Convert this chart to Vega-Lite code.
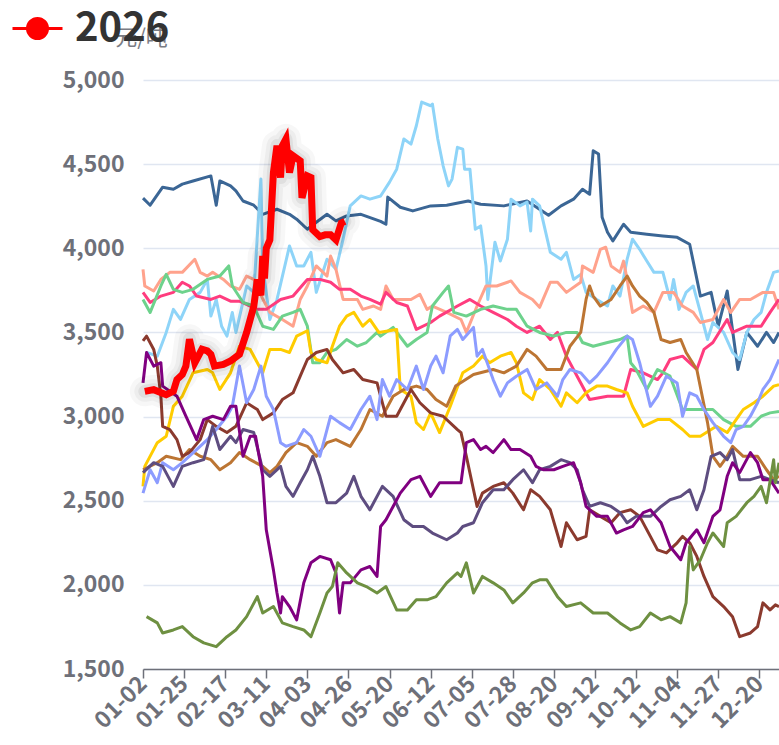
{
"$schema":"https://vega.github.io/schema/vega-lite/v6.json",
"width":636,"height":589,
"autosize":{"type":"none"},
"padding":{"left":143,"top":80,"right":0,"bottom":76},
"background":"white",
"config":{"view":{"stroke":null},"font":"Noto Sans CJK SC"},
"datasets":{
"past":[
{"year":"2022","day":0,"price":4298},{"year":"2022","day":4,"price":4256},{"year":"2022","day":11,"price":4363},{"year":"2022","day":17,"price":4351},{"year":"2022","day":22,"price":4381},{"year":"2022","day":28,"price":4400},{"year":"2022","day":38,"price":4430},{"year":"2022","day":41,"price":4256},{"year":"2022","day":43,"price":4400},{"year":"2022","day":49,"price":4371},{"year":"2022","day":52,"price":4341},{"year":"2022","day":56,"price":4281},{"year":"2022","day":62,"price":4256},{"year":"2022","day":67,"price":4202},{"year":"2022","day":75,"price":4232},{"year":"2022","day":82,"price":4202},{"year":"2022","day":86,"price":4173},{"year":"2022","day":92,"price":4113},{"year":"2022","day":97,"price":4155},{"year":"2022","day":103,"price":4202},{"year":"2022","day":108,"price":4163},{"year":"2022","day":114,"price":4192},{"year":"2022","day":122,"price":4202},{"year":"2022","day":133,"price":4160},{"year":"2022","day":136,"price":4143},{"year":"2022","day":137,"price":4304},{"year":"2022","day":144,"price":4244},{"year":"2022","day":151,"price":4222},{"year":"2022","day":161,"price":4252},{"year":"2022","day":170,"price":4256},{"year":"2022","day":182,"price":4281},{"year":"2022","day":189,"price":4262},{"year":"2022","day":202,"price":4252},{"year":"2022","day":215,"price":4281},{"year":"2022","day":227,"price":4196},{"year":"2022","day":234,"price":4252},{"year":"2022","day":241,"price":4292},{"year":"2022","day":246,"price":4351},{"year":"2022","day":250,"price":4321},{"year":"2022","day":252,"price":4579},{"year":"2022","day":255,"price":4560},{"year":"2022","day":257,"price":4185},{"year":"2022","day":260,"price":4095},{"year":"2022","day":263,"price":4044},{"year":"2022","day":269,"price":4143},{"year":"2022","day":273,"price":4095},{"year":"2022","day":282,"price":4083},{"year":"2022","day":291,"price":4073},{"year":"2022","day":299,"price":4065},{"year":"2022","day":306,"price":4024},{"year":"2022","day":312,"price":3716},{"year":"2022","day":318,"price":3738},{"year":"2022","day":322,"price":3537},{"year":"2022","day":327,"price":3746},{"year":"2022","day":333,"price":3280},{"year":"2022","day":338,"price":3500},{"year":"2022","day":344,"price":3418},{"year":"2022","day":349,"price":3500},{"year":"2022","day":353,"price":3440},{"year":"2022","day":356,"price":3500},
{"year":"2021","day":2,"price":3381},{"year":"2021","day":8,"price":3359},{"year":"2021","day":13,"price":3500},{"year":"2021","day":17,"price":3637},{"year":"2021","day":21,"price":3577},{"year":"2021","day":26,"price":3696},{"year":"2021","day":32,"price":3738},{"year":"2021","day":36,"price":3815},{"year":"2021","day":38,"price":3597},{"year":"2021","day":41,"price":3696},{"year":"2021","day":44,"price":3537},{"year":"2021","day":47,"price":3478},{"year":"2021","day":50,"price":3619},{"year":"2021","day":52,"price":3500},{"year":"2021","day":58,"price":3776},{"year":"2021","day":62,"price":3738},{"year":"2021","day":66,"price":4411},{"year":"2021","day":67,"price":3895},{"year":"2021","day":71,"price":3577},{"year":"2021","day":75,"price":3696},{"year":"2021","day":82,"price":4014},{"year":"2021","day":86,"price":3895},{"year":"2021","day":90,"price":3895},{"year":"2021","day":94,"price":3976},{"year":"2021","day":97,"price":3738},{"year":"2021","day":103,"price":3935},{"year":"2021","day":108,"price":3875},{"year":"2021","day":112,"price":4054},{"year":"2021","day":116,"price":4252},{"year":"2021","day":122,"price":4311},{"year":"2021","day":127,"price":4292},{"year":"2021","day":133,"price":4311},{"year":"2021","day":138,"price":4393},{"year":"2021","day":142,"price":4470},{"year":"2021","day":146,"price":4649},{"year":"2021","day":150,"price":4619},{"year":"2021","day":153,"price":4728},{"year":"2021","day":156,"price":4869},{"year":"2021","day":161,"price":4847},{"year":"2021","day":162,"price":4857},{"year":"2021","day":165,"price":4649},{"year":"2021","day":168,"price":4490},{"year":"2021","day":171,"price":4371},{"year":"2021","day":173,"price":4411},{"year":"2021","day":176,"price":4600},{"year":"2021","day":179,"price":4589},{"year":"2021","day":180,"price":4470},{"year":"2021","day":183,"price":4470},{"year":"2021","day":186,"price":4113},{"year":"2021","day":189,"price":4133},{"year":"2021","day":192,"price":3895},{"year":"2021","day":193,"price":3696},{"year":"2021","day":197,"price":4036},{"year":"2021","day":200,"price":3924},{"year":"2021","day":204,"price":4054},{"year":"2021","day":206,"price":4292},{"year":"2021","day":211,"price":4252},{"year":"2021","day":215,"price":4274},{"year":"2021","day":217,"price":4103},{"year":"2021","day":218,"price":4292},{"year":"2021","day":222,"price":4252},{"year":"2021","day":228,"price":3976},{"year":"2021","day":234,"price":3935},{"year":"2021","day":237,"price":3976},{"year":"2021","day":241,"price":3815},{"year":"2021","day":245,"price":3845},{"year":"2021","day":248,"price":3738},{"year":"2021","day":254,"price":3696},{"year":"2021","day":260,"price":3657},{"year":"2021","day":263,"price":3776},{"year":"2021","day":267,"price":3716},{"year":"2021","day":271,"price":3935},{"year":"2021","day":274,"price":4054},{"year":"2021","day":278,"price":3994},{"year":"2021","day":282,"price":3924},{"year":"2021","day":286,"price":3857},{"year":"2021","day":291,"price":3857},{"year":"2021","day":295,"price":3696},{"year":"2021","day":297,"price":3815},{"year":"2021","day":300,"price":3637},{"year":"2021","day":304,"price":3738},{"year":"2021","day":308,"price":3776},{"year":"2021","day":312,"price":3619},{"year":"2021","day":316,"price":3458},{"year":"2021","day":319,"price":3559},{"year":"2021","day":325,"price":3500},{"year":"2021","day":330,"price":3381},{"year":"2021","day":334,"price":3339},{"year":"2021","day":338,"price":3500},{"year":"2021","day":342,"price":3577},{"year":"2021","day":346,"price":3619},{"year":"2021","day":349,"price":3738},{"year":"2021","day":353,"price":3857},{"year":"2021","day":356,"price":3865},
{"year":"2023","day":0,"price":3875},{"year":"2023","day":1,"price":3776},{"year":"2023","day":6,"price":3746},{"year":"2023","day":10,"price":3815},{"year":"2023","day":15,"price":3857},{"year":"2023","day":22,"price":3857},{"year":"2023","day":29,"price":3935},{"year":"2023","day":32,"price":3857},{"year":"2023","day":36,"price":3835},{"year":"2023","day":39,"price":3857},{"year":"2023","day":45,"price":3815},{"year":"2023","day":49,"price":3776},{"year":"2023","day":54,"price":3756},{"year":"2023","day":58,"price":3835},{"year":"2023","day":62,"price":3815},{"year":"2023","day":67,"price":3700},{"year":"2023","day":71,"price":3619},{"year":"2023","day":78,"price":3577},{"year":"2023","day":84,"price":3537},{"year":"2023","day":88,"price":3696},{"year":"2023","day":92,"price":3776},{"year":"2023","day":97,"price":3895},{"year":"2023","day":103,"price":3835},{"year":"2023","day":105,"price":3954},{"year":"2023","day":108,"price":3875},{"year":"2023","day":112,"price":3696},{"year":"2023","day":120,"price":3696},{"year":"2023","day":123,"price":3637},{"year":"2023","day":129,"price":3657},{"year":"2023","day":133,"price":3637},{"year":"2023","day":136,"price":3776},{"year":"2023","day":140,"price":3696},{"year":"2023","day":150,"price":3696},{"year":"2023","day":155,"price":3726},{"year":"2023","day":159,"price":3637},{"year":"2023","day":162,"price":3657},{"year":"2023","day":170,"price":3619},{"year":"2023","day":178,"price":3577},{"year":"2023","day":181,"price":3500},{"year":"2023","day":187,"price":3657},{"year":"2023","day":192,"price":3776},{"year":"2023","day":198,"price":3776},{"year":"2023","day":206,"price":3806},{"year":"2023","day":211,"price":3738},{"year":"2023","day":218,"price":3696},{"year":"2023","day":222,"price":3649},{"year":"2023","day":228,"price":3798},{"year":"2023","day":232,"price":3798},{"year":"2023","day":237,"price":3738},{"year":"2023","day":245,"price":3798},{"year":"2023","day":246,"price":3895},{"year":"2023","day":252,"price":3857},{"year":"2023","day":256,"price":3994},{"year":"2023","day":259,"price":4006},{"year":"2023","day":262,"price":3895},{"year":"2023","day":267,"price":3857},{"year":"2023","day":269,"price":3924},{"year":"2023","day":271,"price":3815},{"year":"2023","day":274,"price":3619},{"year":"2023","day":280,"price":3657},{"year":"2023","day":286,"price":3619},{"year":"2023","day":291,"price":3738},{"year":"2023","day":297,"price":3738},{"year":"2023","day":302,"price":3657},{"year":"2023","day":308,"price":3619},{"year":"2023","day":312,"price":3559},{"year":"2023","day":319,"price":3577},{"year":"2023","day":325,"price":3696},{"year":"2023","day":329,"price":3619},{"year":"2023","day":334,"price":3696},{"year":"2023","day":340,"price":3696},{"year":"2023","day":347,"price":3738},{"year":"2023","day":353,"price":3738},{"year":"2023","day":356,"price":3637},
{"year":"2024","day":0,"price":3738},{"year":"2024","day":4,"price":3678},{"year":"2024","day":10,"price":3716},{"year":"2024","day":17,"price":3738},{"year":"2024","day":22,"price":3798},{"year":"2024","day":26,"price":3776},{"year":"2024","day":30,"price":3716},{"year":"2024","day":38,"price":3696},{"year":"2024","day":43,"price":3716},{"year":"2024","day":49,"price":3686},{"year":"2024","day":54,"price":3686},{"year":"2024","day":64,"price":3637},{"year":"2024","day":69,"price":3637},{"year":"2024","day":77,"price":3696},{"year":"2024","day":84,"price":3716},{"year":"2024","day":92,"price":3815},{"year":"2024","day":99,"price":3815},{"year":"2024","day":105,"price":3798},{"year":"2024","day":110,"price":3756},{"year":"2024","day":116,"price":3756},{"year":"2024","day":122,"price":3716},{"year":"2024","day":127,"price":3696},{"year":"2024","day":133,"price":3668},{"year":"2024","day":136,"price":3738},{"year":"2024","day":142,"price":3678},{"year":"2024","day":148,"price":3657},{"year":"2024","day":153,"price":3518},{"year":"2024","day":161,"price":3559},{"year":"2024","day":166,"price":3597},{"year":"2024","day":176,"price":3657},{"year":"2024","day":183,"price":3696},{"year":"2024","day":189,"price":3657},{"year":"2024","day":196,"price":3619},{"year":"2024","day":204,"price":3577},{"year":"2024","day":209,"price":3537},{"year":"2024","day":215,"price":3500},{"year":"2024","day":222,"price":3537},{"year":"2024","day":228,"price":3458},{"year":"2024","day":232,"price":3500},{"year":"2024","day":237,"price":3359},{"year":"2024","day":243,"price":3240},{"year":"2024","day":250,"price":3101},{"year":"2024","day":260,"price":3121},{"year":"2024","day":269,"price":3121},{"year":"2024","day":273,"price":3280},{"year":"2024","day":280,"price":3260},{"year":"2024","day":288,"price":3220},{"year":"2024","day":291,"price":3260},{"year":"2024","day":295,"price":3339},{"year":"2024","day":302,"price":3359},{"year":"2024","day":310,"price":3280},{"year":"2024","day":314,"price":3399},{"year":"2024","day":319,"price":3440},{"year":"2024","day":327,"price":3577},{"year":"2024","day":330,"price":3500},{"year":"2024","day":338,"price":3537},{"year":"2024","day":346,"price":3537},{"year":"2024","day":351,"price":3619},{"year":"2024","day":356,"price":3696},
{"year":"2025","day":0,"price":3696},{"year":"2025","day":4,"price":3619},{"year":"2025","day":10,"price":3776},{"year":"2025","day":13,"price":3845},{"year":"2025","day":17,"price":3756},{"year":"2025","day":22,"price":3738},{"year":"2025","day":28,"price":3756},{"year":"2025","day":36,"price":3815},{"year":"2025","day":43,"price":3835},{"year":"2025","day":48,"price":3895},{"year":"2025","day":50,"price":3776},{"year":"2025","day":56,"price":3678},{"year":"2025","day":62,"price":3657},{"year":"2025","day":67,"price":3537},{"year":"2025","day":73,"price":3518},{"year":"2025","day":78,"price":3597},{"year":"2025","day":84,"price":3619},{"year":"2025","day":88,"price":3637},{"year":"2025","day":92,"price":3537},{"year":"2025","day":95,"price":3320},{"year":"2025","day":99,"price":3320},{"year":"2025","day":103,"price":3381},{"year":"2025","day":108,"price":3399},{"year":"2025","day":114,"price":3458},{"year":"2025","day":120,"price":3418},{"year":"2025","day":125,"price":3440},{"year":"2025","day":131,"price":3500},{"year":"2025","day":133,"price":3478},{"year":"2025","day":140,"price":3530},{"year":"2025","day":148,"price":3418},{"year":"2025","day":153,"price":3458},{"year":"2025","day":159,"price":3500},{"year":"2025","day":162,"price":3657},{"year":"2025","day":168,"price":3738},{"year":"2025","day":171,"price":3776},{"year":"2025","day":174,"price":3619},{"year":"2025","day":181,"price":3597},{"year":"2025","day":189,"price":3637},{"year":"2025","day":196,"price":3657},{"year":"2025","day":204,"price":3637},{"year":"2025","day":209,"price":3637},{"year":"2025","day":215,"price":3537},{"year":"2025","day":222,"price":3500},{"year":"2025","day":230,"price":3478},{"year":"2025","day":237,"price":3500},{"year":"2025","day":243,"price":3500},{"year":"2025","day":246,"price":3440},{"year":"2025","day":252,"price":3418},{"year":"2025","day":260,"price":3440},{"year":"2025","day":267,"price":3458},{"year":"2025","day":271,"price":3478},{"year":"2025","day":273,"price":3320},{"year":"2025","day":276,"price":3280},{"year":"2025","day":282,"price":3161},{"year":"2025","day":288,"price":3280},{"year":"2025","day":295,"price":3240},{"year":"2025","day":302,"price":3042},{"year":"2025","day":310,"price":3042},{"year":"2025","day":319,"price":3042},{"year":"2025","day":325,"price":2982},{"year":"2025","day":332,"price":2942},{"year":"2025","day":340,"price":2942},{"year":"2025","day":346,"price":3002},{"year":"2025","day":351,"price":3022},{"year":"2025","day":356,"price":3030},
{"year":"2019","day":0,"price":2585},{"year":"2019","day":1,"price":2704},{"year":"2019","day":8,"price":2845},{"year":"2019","day":13,"price":2883},{"year":"2019","day":17,"price":3061},{"year":"2019","day":22,"price":3121},{"year":"2019","day":28,"price":3260},{"year":"2019","day":36,"price":3280},{"year":"2019","day":39,"price":3260},{"year":"2019","day":43,"price":3161},{"year":"2019","day":49,"price":3260},{"year":"2019","day":54,"price":3418},{"year":"2019","day":60,"price":3399},{"year":"2019","day":64,"price":3320},{"year":"2019","day":67,"price":3260},{"year":"2019","day":71,"price":3399},{"year":"2019","day":77,"price":3399},{"year":"2019","day":82,"price":3381},{"year":"2019","day":86,"price":3478},{"year":"2019","day":92,"price":3510},{"year":"2019","day":94,"price":3381},{"year":"2019","day":97,"price":3339},{"year":"2019","day":103,"price":3320},{"year":"2019","day":106,"price":3418},{"year":"2019","day":110,"price":3537},{"year":"2019","day":114,"price":3597},{"year":"2019","day":118,"price":3619},{"year":"2019","day":123,"price":3537},{"year":"2019","day":127,"price":3577},{"year":"2019","day":132,"price":3500},{"year":"2019","day":142,"price":3518},{"year":"2019","day":144,"price":3161},{"year":"2019","day":150,"price":3121},{"year":"2019","day":153,"price":2964},{"year":"2019","day":157,"price":2923},{"year":"2019","day":161,"price":3022},{"year":"2019","day":166,"price":2905},{"year":"2019","day":172,"price":3061},{"year":"2019","day":179,"price":3260},{"year":"2019","day":185,"price":3300},{"year":"2019","day":190,"price":3359},{"year":"2019","day":194,"price":3320},{"year":"2019","day":200,"price":3359},{"year":"2019","day":206,"price":3381},{"year":"2019","day":209,"price":3320},{"year":"2019","day":213,"price":3141},{"year":"2019","day":218,"price":3101},{"year":"2019","day":222,"price":3220},{"year":"2019","day":228,"price":3161},{"year":"2019","day":234,"price":3061},{"year":"2019","day":237,"price":3141},{"year":"2019","day":243,"price":3082},{"year":"2019","day":248,"price":3141},{"year":"2019","day":254,"price":3181},{"year":"2019","day":260,"price":3181},{"year":"2019","day":265,"price":3161},{"year":"2019","day":271,"price":3141},{"year":"2019","day":274,"price":3061},{"year":"2019","day":280,"price":2942},{"year":"2019","day":288,"price":2982},{"year":"2019","day":295,"price":2982},{"year":"2019","day":302,"price":2923},{"year":"2019","day":306,"price":2883},{"year":"2019","day":312,"price":2883},{"year":"2019","day":318,"price":2923},{"year":"2019","day":321,"price":2942},{"year":"2019","day":327,"price":2905},{"year":"2019","day":332,"price":2982},{"year":"2019","day":336,"price":3042},{"year":"2019","day":342,"price":3082},{"year":"2019","day":347,"price":3121},{"year":"2019","day":353,"price":3181},{"year":"2019","day":356,"price":3190},
{"year":"2018","day":0,"price":2684},{"year":"2018","day":8,"price":2726},{"year":"2018","day":13,"price":2764},{"year":"2018","day":21,"price":2744},{"year":"2018","day":26,"price":2804},{"year":"2018","day":32,"price":2764},{"year":"2018","day":38,"price":2744},{"year":"2018","day":43,"price":2684},{"year":"2018","day":49,"price":2726},{"year":"2018","day":54,"price":2786},{"year":"2018","day":60,"price":2744},{"year":"2018","day":67,"price":2704},{"year":"2018","day":71,"price":2667},{"year":"2018","day":75,"price":2704},{"year":"2018","day":80,"price":2786},{"year":"2018","day":86,"price":2845},{"year":"2018","day":92,"price":2823},{"year":"2018","day":97,"price":2764},{"year":"2018","day":103,"price":2845},{"year":"2018","day":108,"price":2863},{"year":"2018","day":116,"price":2823},{"year":"2018","day":122,"price":2923},{"year":"2018","day":127,"price":3042},{"year":"2018","day":134,"price":3002},{"year":"2018","day":140,"price":3121},{"year":"2018","day":146,"price":3161},{"year":"2018","day":153,"price":3181},{"year":"2018","day":159,"price":3161},{"year":"2018","day":164,"price":3101},{"year":"2018","day":170,"price":3061},{"year":"2018","day":175,"price":3181},{"year":"2018","day":185,"price":3250},{"year":"2018","day":196,"price":3280},{"year":"2018","day":202,"price":3260},{"year":"2018","day":209,"price":3300},{"year":"2018","day":215,"price":3399},{"year":"2018","day":220,"price":3359},{"year":"2018","day":226,"price":3280},{"year":"2018","day":234,"price":3280},{"year":"2018","day":239,"price":3418},{"year":"2018","day":245,"price":3500},{"year":"2018","day":248,"price":3696},{"year":"2018","day":250,"price":3776},{"year":"2018","day":252,"price":3716},{"year":"2018","day":256,"price":3657},{"year":"2018","day":262,"price":3696},{"year":"2018","day":267,"price":3776},{"year":"2018","day":271,"price":3835},{"year":"2018","day":274,"price":3776},{"year":"2018","day":278,"price":3716},{"year":"2018","day":282,"price":3678},{"year":"2018","day":286,"price":3619},{"year":"2018","day":290,"price":3458},{"year":"2018","day":295,"price":3440},{"year":"2018","day":301,"price":3458},{"year":"2018","day":304,"price":3381},{"year":"2018","day":310,"price":3280},{"year":"2018","day":316,"price":2964},{"year":"2018","day":319,"price":2764},{"year":"2018","day":323,"price":2704},{"year":"2018","day":327,"price":2764},{"year":"2018","day":330,"price":2823},{"year":"2018","day":336,"price":2764},{"year":"2018","day":344,"price":2764},{"year":"2018","day":349,"price":2684},{"year":"2018","day":353,"price":2625},{"year":"2018","day":356,"price":2645},
{"year":"2017","day":0,"price":3450},{"year":"2017","day":2,"price":3478},{"year":"2017","day":6,"price":3399},{"year":"2017","day":8,"price":3300},{"year":"2017","day":10,"price":3121},{"year":"2017","day":11,"price":2942},{"year":"2017","day":15,"price":2923},{"year":"2017","day":19,"price":2863},{"year":"2017","day":22,"price":2764},{"year":"2017","day":26,"price":2786},{"year":"2017","day":32,"price":2863},{"year":"2017","day":36,"price":2982},{"year":"2017","day":41,"price":2942},{"year":"2017","day":47,"price":2905},{"year":"2017","day":52,"price":2942},{"year":"2017","day":58,"price":3082},{"year":"2017","day":64,"price":3042},{"year":"2017","day":67,"price":2982},{"year":"2017","day":73,"price":3022},{"year":"2017","day":78,"price":3101},{"year":"2017","day":84,"price":3141},{"year":"2017","day":88,"price":3240},{"year":"2017","day":92,"price":3339},{"year":"2017","day":97,"price":3381},{"year":"2017","day":103,"price":3399},{"year":"2017","day":106,"price":3339},{"year":"2017","day":112,"price":3260},{"year":"2017","day":118,"price":3280},{"year":"2017","day":123,"price":3220},{"year":"2017","day":131,"price":3200},{"year":"2017","day":136,"price":3002},{"year":"2017","day":142,"price":3002},{"year":"2017","day":150,"price":3161},{"year":"2017","day":155,"price":3082},{"year":"2017","day":161,"price":3022},{"year":"2017","day":168,"price":3002},{"year":"2017","day":176,"price":2923},{"year":"2017","day":178,"price":2905},{"year":"2017","day":181,"price":2764},{"year":"2017","day":185,"price":2565},{"year":"2017","day":187,"price":2466},{"year":"2017","day":190,"price":2545},{"year":"2017","day":196,"price":2585},{"year":"2017","day":202,"price":2607},{"year":"2017","day":207,"price":2545},{"year":"2017","day":213,"price":2446},{"year":"2017","day":217,"price":2565},{"year":"2017","day":222,"price":2526},{"year":"2017","day":228,"price":2446},{"year":"2017","day":234,"price":2228},{"year":"2017","day":237,"price":2369},{"year":"2017","day":243,"price":2268},{"year":"2017","day":248,"price":2288},{"year":"2017","day":250,"price":2446},{"year":"2017","day":256,"price":2407},{"year":"2017","day":262,"price":2369},{"year":"2017","day":267,"price":2429},{"year":"2017","day":273,"price":2446},{"year":"2017","day":278,"price":2407},{"year":"2017","day":284,"price":2288},{"year":"2017","day":288,"price":2208},{"year":"2017","day":293,"price":2190},{"year":"2017","day":299,"price":2250},{"year":"2017","day":302,"price":2288},{"year":"2017","day":306,"price":2250},{"year":"2017","day":310,"price":2169},{"year":"2017","day":314,"price":2050},{"year":"2017","day":319,"price":1930},{"year":"2017","day":325,"price":1871},{"year":"2017","day":330,"price":1811},{"year":"2017","day":334,"price":1692},{"year":"2017","day":340,"price":1714},{"year":"2017","day":344,"price":1752},{"year":"2017","day":347,"price":1893},{"year":"2017","day":351,"price":1851},{"year":"2017","day":354,"price":1881},{"year":"2017","day":356,"price":1871},
{"year":"2020","day":0,"price":2545},{"year":"2020","day":4,"price":2684},{"year":"2020","day":8,"price":2607},{"year":"2020","day":11,"price":2726},{"year":"2020","day":17,"price":2684},{"year":"2020","day":22,"price":2726},{"year":"2020","day":30,"price":2804},{"year":"2020","day":36,"price":2863},{"year":"2020","day":41,"price":2923},{"year":"2020","day":47,"price":3002},{"year":"2020","day":50,"price":3061},{"year":"2020","day":54,"price":3300},{"year":"2020","day":58,"price":3082},{"year":"2020","day":62,"price":3161},{"year":"2020","day":66,"price":3300},{"year":"2020","day":69,"price":3121},{"year":"2020","day":73,"price":3042},{"year":"2020","day":77,"price":2845},{"year":"2020","day":80,"price":2823},{"year":"2020","day":86,"price":2845},{"year":"2020","day":90,"price":2923},{"year":"2020","day":94,"price":2883},{"year":"2020","day":99,"price":2764},{"year":"2020","day":105,"price":3002},{"year":"2020","day":110,"price":2964},{"year":"2020","day":116,"price":2923},{"year":"2020","day":122,"price":3042},{"year":"2020","day":127,"price":3121},{"year":"2020","day":131,"price":2982},{"year":"2020","day":134,"price":3220},{"year":"2020","day":138,"price":3121},{"year":"2020","day":142,"price":3220},{"year":"2020","day":148,"price":3161},{"year":"2020","day":153,"price":3300},{"year":"2020","day":157,"price":3161},{"year":"2020","day":161,"price":3300},{"year":"2020","day":164,"price":3359},{"year":"2020","day":168,"price":3260},{"year":"2020","day":172,"price":3480},{"year":"2020","day":176,"price":3518},{"year":"2020","day":179,"price":3458},{"year":"2020","day":185,"price":3530},{"year":"2020","day":187,"price":3359},{"year":"2020","day":190,"price":3399},{"year":"2020","day":196,"price":3220},{"year":"2020","day":200,"price":3121},{"year":"2020","day":204,"price":3200},{"year":"2020","day":209,"price":3240},{"year":"2020","day":215,"price":3280},{"year":"2020","day":220,"price":3161},{"year":"2020","day":226,"price":3200},{"year":"2020","day":232,"price":3121},{"year":"2020","day":235,"price":3220},{"year":"2020","day":239,"price":3280},{"year":"2020","day":245,"price":3260},{"year":"2020","day":250,"price":3200},{"year":"2020","day":254,"price":3240},{"year":"2020","day":260,"price":3320},{"year":"2020","day":265,"price":3399},{"year":"2020","day":271,"price":3478},{"year":"2020","day":274,"price":3458},{"year":"2020","day":278,"price":3320},{"year":"2020","day":284,"price":3061},{"year":"2020","day":288,"price":3121},{"year":"2020","day":293,"price":3240},{"year":"2020","day":299,"price":3200},{"year":"2020","day":302,"price":3002},{"year":"2020","day":306,"price":3141},{"year":"2020","day":310,"price":3121},{"year":"2020","day":314,"price":3042},{"year":"2020","day":319,"price":2964},{"year":"2020","day":325,"price":2883},{"year":"2020","day":329,"price":2845},{"year":"2020","day":332,"price":2923},{"year":"2020","day":336,"price":2942},{"year":"2020","day":340,"price":3002},{"year":"2020","day":344,"price":3082},{"year":"2020","day":347,"price":3161},{"year":"2020","day":351,"price":3220},{"year":"2020","day":356,"price":3339},
{"year":"2015","day":0,"price":2667},{"year":"2015","day":6,"price":2726},{"year":"2015","day":11,"price":2704},{"year":"2015","day":17,"price":2585},{"year":"2015","day":22,"price":2704},{"year":"2015","day":28,"price":2726},{"year":"2015","day":34,"price":2744},{"year":"2015","day":39,"price":2942},{"year":"2015","day":43,"price":2804},{"year":"2015","day":49,"price":2883},{"year":"2015","day":52,"price":2845},{"year":"2015","day":56,"price":2923},{"year":"2015","day":62,"price":2905},{"year":"2015","day":67,"price":2684},{"year":"2015","day":71,"price":2645},{"year":"2015","day":77,"price":2704},{"year":"2015","day":80,"price":2585},{"year":"2015","day":84,"price":2526},{"year":"2015","day":88,"price":2607},{"year":"2015","day":92,"price":2684},{"year":"2015","day":95,"price":2764},{"year":"2015","day":99,"price":2645},{"year":"2015","day":103,"price":2488},{"year":"2015","day":108,"price":2488},{"year":"2015","day":114,"price":2545},{"year":"2015","day":118,"price":2645},{"year":"2015","day":122,"price":2526},{"year":"2015","day":127,"price":2446},{"year":"2015","day":134,"price":2585},{"year":"2015","day":140,"price":2526},{"year":"2015","day":146,"price":2387},{"year":"2015","day":151,"price":2347},{"year":"2015","day":157,"price":2347},{"year":"2015","day":162,"price":2308},{"year":"2015","day":170,"price":2268},{"year":"2015","day":176,"price":2308},{"year":"2015","day":179,"price":2347},{"year":"2015","day":185,"price":2369},{"year":"2015","day":190,"price":2488},{"year":"2015","day":196,"price":2565},{"year":"2015","day":202,"price":2565},{"year":"2015","day":207,"price":2625},{"year":"2015","day":213,"price":2684},{"year":"2015","day":218,"price":2607},{"year":"2015","day":222,"price":2684},{"year":"2015","day":228,"price":2704},{"year":"2015","day":234,"price":2744},{"year":"2015","day":239,"price":2726},{"year":"2015","day":243,"price":2684},{"year":"2015","day":246,"price":2565},{"year":"2015","day":250,"price":2466},{"year":"2015","day":256,"price":2488},{"year":"2015","day":262,"price":2466},{"year":"2015","day":267,"price":2429},{"year":"2015","day":271,"price":2369},{"year":"2015","day":276,"price":2407},{"year":"2015","day":284,"price":2407},{"year":"2015","day":290,"price":2466},{"year":"2015","day":295,"price":2506},{"year":"2015","day":301,"price":2526},{"year":"2015","day":306,"price":2565},{"year":"2015","day":310,"price":2446},{"year":"2015","day":314,"price":2565},{"year":"2015","day":318,"price":2764},{"year":"2015","day":323,"price":2786},{"year":"2015","day":327,"price":2744},{"year":"2015","day":330,"price":2804},{"year":"2015","day":334,"price":2625},{"year":"2015","day":340,"price":2625},{"year":"2015","day":346,"price":2645},{"year":"2015","day":351,"price":2625},{"year":"2015","day":356,"price":2607},
{"year":"2016","day":0,"price":3200},{"year":"2016","day":2,"price":3381},{"year":"2016","day":6,"price":3300},{"year":"2016","day":10,"price":3320},{"year":"2016","day":11,"price":3181},{"year":"2016","day":19,"price":3121},{"year":"2016","day":24,"price":3002},{"year":"2016","day":30,"price":2863},{"year":"2016","day":34,"price":2982},{"year":"2016","day":39,"price":3002},{"year":"2016","day":45,"price":2982},{"year":"2016","day":49,"price":3061},{"year":"2016","day":52,"price":3061},{"year":"2016","day":56,"price":2764},{"year":"2016","day":60,"price":2883},{"year":"2016","day":63,"price":2883},{"year":"2016","day":67,"price":2645},{"year":"2016","day":69,"price":2327},{"year":"2016","day":73,"price":2089},{"year":"2016","day":75,"price":1952},{"year":"2016","day":77,"price":1833},{"year":"2016","day":78,"price":1930},{"year":"2016","day":82,"price":1871},{"year":"2016","day":86,"price":1792},{"year":"2016","day":90,"price":2012},{"year":"2016","day":94,"price":2131},{"year":"2016","day":99,"price":2169},{"year":"2016","day":105,"price":2149},{"year":"2016","day":108,"price":2071},{"year":"2016","day":110,"price":1833},{"year":"2016","day":112,"price":2012},{"year":"2016","day":116,"price":2012},{"year":"2016","day":122,"price":2089},{"year":"2016","day":127,"price":2109},{"year":"2016","day":131,"price":2050},{"year":"2016","day":133,"price":2347},{"year":"2016","day":136,"price":2387},{"year":"2016","day":140,"price":2466},{"year":"2016","day":144,"price":2545},{"year":"2016","day":150,"price":2625},{"year":"2016","day":155,"price":2645},{"year":"2016","day":161,"price":2526},{"year":"2016","day":166,"price":2607},{"year":"2016","day":172,"price":2607},{"year":"2016","day":178,"price":2607},{"year":"2016","day":181,"price":2845},{"year":"2016","day":185,"price":2863},{"year":"2016","day":189,"price":2804},{"year":"2016","day":192,"price":2823},{"year":"2016","day":196,"price":2786},{"year":"2016","day":202,"price":2863},{"year":"2016","day":206,"price":2804},{"year":"2016","day":211,"price":2804},{"year":"2016","day":217,"price":2764},{"year":"2016","day":220,"price":2704},{"year":"2016","day":224,"price":2684},{"year":"2016","day":230,"price":2684},{"year":"2016","day":235,"price":2704},{"year":"2016","day":241,"price":2726},{"year":"2016","day":245,"price":2607},{"year":"2016","day":248,"price":2466},{"year":"2016","day":254,"price":2407},{"year":"2016","day":260,"price":2407},{"year":"2016","day":265,"price":2308},{"year":"2016","day":269,"price":2327},{"year":"2016","day":274,"price":2347},{"year":"2016","day":280,"price":2429},{"year":"2016","day":284,"price":2446},{"year":"2016","day":290,"price":2369},{"year":"2016","day":295,"price":2228},{"year":"2016","day":301,"price":2149},{"year":"2016","day":304,"price":2250},{"year":"2016","day":310,"price":2327},{"year":"2016","day":314,"price":2250},{"year":"2016","day":319,"price":2407},{"year":"2016","day":323,"price":2446},{"year":"2016","day":327,"price":2645},{"year":"2016","day":330,"price":2726},{"year":"2016","day":334,"price":2667},{"year":"2016","day":340,"price":2786},{"year":"2016","day":344,"price":2726},{"year":"2016","day":347,"price":2625},{"year":"2016","day":351,"price":2625},{"year":"2016","day":356,"price":2545},
{"year":"2014","day":2,"price":1811},{"year":"2014","day":8,"price":1774},{"year":"2014","day":11,"price":1714},{"year":"2014","day":17,"price":1732},{"year":"2014","day":22,"price":1752},{"year":"2014","day":28,"price":1692},{"year":"2014","day":34,"price":1655},{"year":"2014","day":41,"price":1633},{"year":"2014","day":47,"price":1692},{"year":"2014","day":52,"price":1732},{"year":"2014","day":58,"price":1811},{"year":"2014","day":64,"price":1930},{"year":"2014","day":67,"price":1833},{"year":"2014","day":73,"price":1871},{"year":"2014","day":78,"price":1774},{"year":"2014","day":84,"price":1752},{"year":"2014","day":90,"price":1732},{"year":"2014","day":94,"price":1692},{"year":"2014","day":99,"price":1833},{"year":"2014","day":103,"price":1952},{"year":"2014","day":106,"price":1990},{"year":"2014","day":109,"price":2131},{"year":"2014","day":114,"price":2071},{"year":"2014","day":120,"price":2012},{"year":"2014","day":125,"price":1990},{"year":"2014","day":131,"price":1952},{"year":"2014","day":136,"price":1990},{"year":"2014","day":142,"price":1851},{"year":"2014","day":148,"price":1851},{"year":"2014","day":153,"price":1911},{"year":"2014","day":159,"price":1911},{"year":"2014","day":164,"price":1930},{"year":"2014","day":170,"price":2012},{"year":"2014","day":176,"price":2071},{"year":"2014","day":178,"price":2050},{"year":"2014","day":181,"price":2131},{"year":"2014","day":185,"price":1952},{"year":"2014","day":190,"price":2050},{"year":"2014","day":196,"price":2012},{"year":"2014","day":202,"price":1970},{"year":"2014","day":207,"price":1893},{"year":"2014","day":213,"price":1952},{"year":"2014","day":218,"price":2012},{"year":"2014","day":222,"price":2030},{"year":"2014","day":226,"price":2030},{"year":"2014","day":232,"price":1930},{"year":"2014","day":237,"price":1871},{"year":"2014","day":245,"price":1893},{"year":"2014","day":252,"price":1833},{"year":"2014","day":260,"price":1833},{"year":"2014","day":267,"price":1774},{"year":"2014","day":273,"price":1732},{"year":"2014","day":278,"price":1752},{"year":"2014","day":284,"price":1833},{"year":"2014","day":290,"price":1792},{"year":"2014","day":295,"price":1811},{"year":"2014","day":301,"price":1774},{"year":"2014","day":304,"price":1893},{"year":"2014","day":306,"price":2228},{"year":"2014","day":308,"price":2089},{"year":"2014","day":312,"price":2149},{"year":"2014","day":316,"price":2250},{"year":"2014","day":319,"price":2308},{"year":"2014","day":325,"price":2228},{"year":"2014","day":327,"price":2369},{"year":"2014","day":332,"price":2407},{"year":"2014","day":338,"price":2488},{"year":"2014","day":342,"price":2526},{"year":"2014","day":346,"price":2585},{"year":"2014","day":349,"price":2488},{"year":"2014","day":353,"price":2744},{"year":"2014","day":354,"price":2607},{"year":"2014","day":356,"price":2726}
],
"current":[
{"year":"2026","day":1,"price":3150},{"year":"2026","day":6,"price":3160},{"year":"2026","day":13,"price":3130},{"year":"2026","day":17,"price":3150},{"year":"2026","day":19,"price":3220},{"year":"2026","day":22,"price":3250},{"year":"2026","day":24,"price":3300},{"year":"2026","day":26,"price":3460},{"year":"2026","day":29,"price":3320},{"year":"2026","day":33,"price":3400},{"year":"2026","day":36,"price":3390},{"year":"2026","day":38,"price":3370},{"year":"2026","day":40,"price":3300},{"year":"2026","day":45,"price":3310},{"year":"2026","day":49,"price":3330},{"year":"2026","day":54,"price":3370},{"year":"2026","day":58,"price":3500},{"year":"2026","day":62,"price":3655},{"year":"2026","day":64,"price":3815},{"year":"2026","day":66,"price":3720},{"year":"2026","day":67,"price":3955},{"year":"2026","day":68,"price":3820},{"year":"2026","day":69,"price":4000},{"year":"2026","day":71,"price":4050},{"year":"2026","day":73,"price":4450},{"year":"2026","day":75,"price":4610},{"year":"2026","day":77,"price":4420},{"year":"2026","day":78,"price":4610},{"year":"2026","day":80,"price":4650},{"year":"2026","day":82,"price":4450},{"year":"2026","day":84,"price":4550},{"year":"2026","day":88,"price":4520},{"year":"2026","day":89,"price":4300},{"year":"2026","day":92,"price":4430},{"year":"2026","day":94,"price":4420},{"year":"2026","day":95,"price":4110},{"year":"2026","day":99,"price":4070},{"year":"2026","day":102,"price":4080},{"year":"2026","day":105,"price":4080},{"year":"2026","day":108,"price":4050},{"year":"2026","day":111,"price":4150},{"year":"2026","day":113,"price":4160}
]
},
"encoding":{
"x":{"field":"day","type":"quantitative","scale":{"domain":[0,356],"nice":false,"zero":false},
"axis":{"title":null,"grid":false,"values":[0,23,46,69,92,115,138,161,184,207,230,253,276,299,322,345],
"labelExpr":"['01-02','01-25','02-17','03-11','04-03','04-26','05-20','06-12','07-05','07-28','08-20','09-12','10-12','11-04','11-27','12-20'][round(datum.value/23)]",
"labelAngle":-45,"labelAlign":"right","labelBaseline":"middle","labelFontSize":23,"labelFontWeight":"bold","labelColor":"#6E7079","labelPadding":2,"labelOverlap":false,"labelBound":false,"labelFlush":false,
"domainColor":"#6E7079","domainWidth":1.5,"tickColor":"#6E7079","tickWidth":1.5,"tickSize":9}},
"y":{"field":"price","type":"quantitative","scale":{"domain":[1500,5000],"nice":false,"zero":false},
"axis":{"values":[1500,2000,2500,3000,3500,4000,4500,5000],"format":",.0f","domain":false,"ticks":false,"gridColor":"#E0E6F1","gridWidth":1.5,
"labelFontSize":23,"labelFontWeight":"bold","labelColor":"#6E7079","labelPadding":19,
"title":"元/吨","titleAngle":0,"titleX":-2,"titleY":-43,"titleAlign":"center","titleBaseline":"middle","titleFontSize":22,"titleFontWeight":"normal","titleColor":"#7A7C84"}}
},
"layer":[
{"data":{"name":"past"},"mark":{"type":"line","strokeWidth":3,"strokeJoin":"round"},
"encoding":{"color":{"field":"year","type":"nominal","legend":null,
"scale":{"domain":["2014","2015","2016","2017","2018","2019","2020","2021","2022","2023","2024","2025"],
"range":["#6E9041","#5E4D80","#800080","#8B3A2E","#BC7533","#FFCC00","#8C9CFF","#8ED4F8","#3B6695","#FFA28C","#FF3C7E","#6DD28C"]}}}},
{"data":{"name":"current"},"mark":{"type":"line","strokeWidth":30,"color":"#000000","opacity":0.03,"strokeJoin":"round","strokeCap":"round"},"encoding":{}},
{"data":{"name":"current"},"mark":{"type":"line","strokeWidth":21,"color":"#000000","opacity":0.04,"strokeJoin":"round","strokeCap":"round"},"encoding":{}},
{"data":{"name":"current"},"mark":{"type":"line","strokeWidth":13,"color":"#000000","opacity":0.06,"strokeJoin":"round","strokeCap":"round"},"encoding":{}},
{"data":{"name":"current"},"mark":{"type":"line","strokeWidth":7},
"encoding":{"color":{"field":"year","type":"nominal","scale":{"domain":["2026"],"range":["#FF0000"]},
"legend":{"title":null,"orient":"none","legendX":-132,"legendY":-78,"padding":0,
"symbolType":"M-1,0L1,0M0.4,0A0.4,0.4,0,1,1,-0.4,0A0.4,0.4,0,1,1,0.4,0","symbolSize":2500,"symbolStrokeWidth":3,
"labelFontSize":40,"labelFontWeight":"bold","labelColor":"#333333","labelOffset":11,
"encode":{"symbols":{"update":{"fill":{"value":"#FF0000"},"stroke":{"value":"#FF0000"},"opacity":{"value":1}}}}}}}}
],
"resolve":{"scale":{"color":"independent"},"legend":{"color":"independent"}}
}
